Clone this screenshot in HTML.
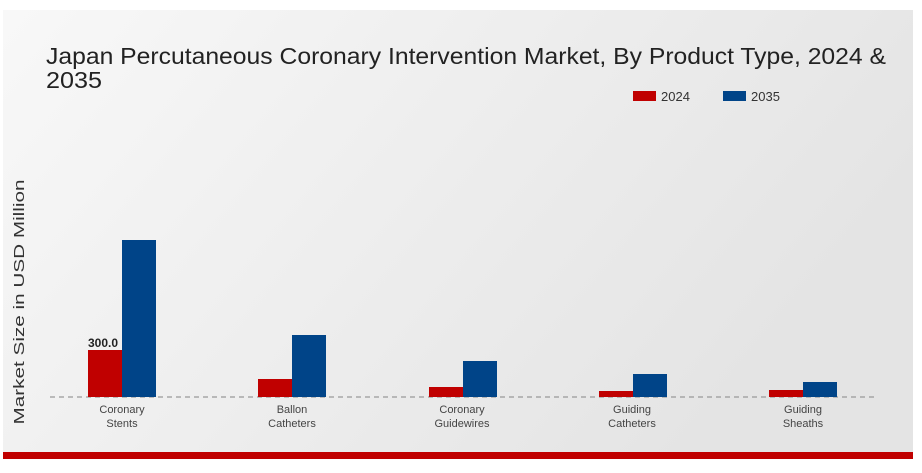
<!DOCTYPE html>
<html><head><meta charset="utf-8"><style>
html,body{margin:0;padding:0;background:#fff;}
svg{display:block;font-family:"Liberation Sans",sans-serif;}
</style></head><body>
<svg width="922" height="473" viewBox="0 0 922 473" xmlns="http://www.w3.org/2000/svg">
<defs>
<linearGradient id="bg" x1="0" y1="0" x2="1" y2="0.4">
<stop offset="0" stop-color="#f8f8f8"/><stop offset="1" stop-color="#e4e4e4"/>
</linearGradient>
</defs>
<rect x="0" y="0" width="922" height="473" fill="#fff"/>
<rect x="3" y="10" width="910" height="442" fill="url(#bg)"/>
<rect x="3" y="452" width="910" height="7" fill="#c00000"/>
<text x="46" y="64" font-size="23" fill="#222" textLength="840" lengthAdjust="spacingAndGlyphs">Japan Percutaneous Coronary Intervention Market, By Product Type, 2024 &amp;</text>
<text x="46" y="88" font-size="23" fill="#222" textLength="56" lengthAdjust="spacingAndGlyphs">2035</text>
<rect x="633" y="91" width="23" height="10" fill="#c00000"/>
<text x="661" y="101" font-size="13" fill="#333">2024</text>
<rect x="723" y="91" width="23" height="10" fill="#004488"/>
<text x="751" y="101" font-size="13" fill="#333">2035</text>
<text transform="translate(24,302) rotate(-90)" text-anchor="middle" font-size="15" fill="#333" textLength="245" lengthAdjust="spacingAndGlyphs">Market Size in USD Million</text>
<line x1="50" y1="397" x2="876" y2="397" stroke="#999" stroke-width="1.2" stroke-dasharray="5,4"/>
<g>
<rect x="88" y="350" width="34" height="47" fill="#c00000"/>
<rect x="122" y="240" width="34" height="157" fill="#004488"/>
<rect x="258" y="379" width="34" height="18" fill="#c00000"/>
<rect x="292" y="335" width="34" height="62" fill="#004488"/>
<rect x="429" y="387" width="34" height="10" fill="#c00000"/>
<rect x="463" y="361" width="34" height="36" fill="#004488"/>
<rect x="599" y="391" width="34" height="6" fill="#c00000"/>
<rect x="633" y="374" width="34" height="23" fill="#004488"/>
<rect x="769" y="390" width="34" height="7" fill="#c00000"/>
<rect x="803" y="382" width="34" height="15" fill="#004488"/>
</g>
<text x="88" y="347" font-size="12" font-weight="bold" fill="#222">300.0</text>
<g font-size="11" fill="#444" text-anchor="middle">
<text x="122" y="413">Coronary</text><text x="122" y="427">Stents</text>
<text x="292" y="413">Ballon</text><text x="292" y="427">Catheters</text>
<text x="462" y="413">Coronary</text><text x="462" y="427">Guidewires</text>
<text x="632" y="413">Guiding</text><text x="632" y="427">Catheters</text>
<text x="803" y="413">Guiding</text><text x="803" y="427">Sheaths</text>
</g>
</svg>
</body></html>
